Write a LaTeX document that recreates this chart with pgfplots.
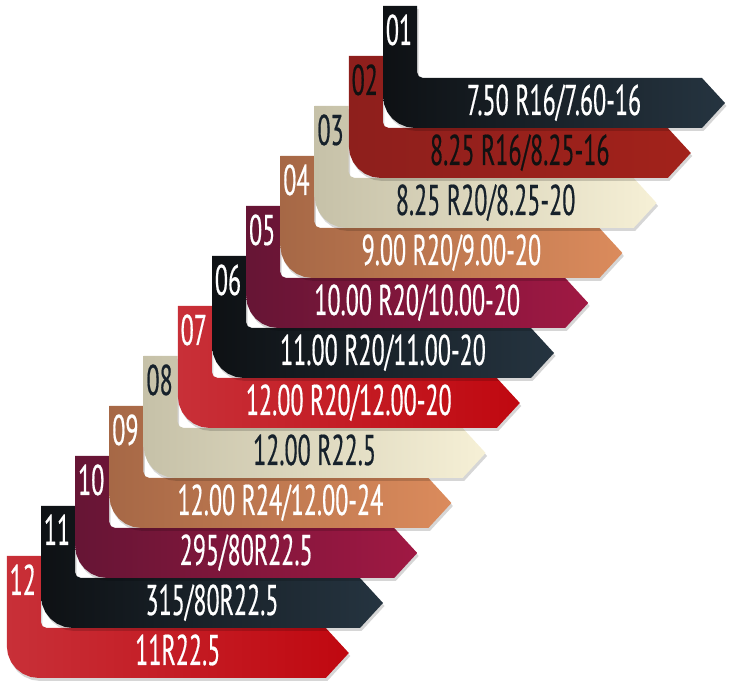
\documentclass[border=0pt]{standalone}
\usepackage{pgfplots}
\pgfplotsset{compat=1.18}
\usepackage{pgfplotstable}
\usepackage{fontspec}
\setmainfont{PT Sans}
\newfontfamily\condfont{PT Sans}[FakeStretch=0.56, FakeBold=0.4]

\definecolor{dkL}{HTML}{0E1114}\definecolor{dkR}{HTML}{253440}
\definecolor{brL}{HTML}{8E1F1C}\definecolor{brR}{HTML}{A2221B}
\definecolor{bgL}{HTML}{C6C1A8}\definecolor{bgR}{HTML}{F6F0D6}
\definecolor{tnL}{HTML}{A66846}\definecolor{tnR}{HTML}{DB8B5C}
\definecolor{plL}{HTML}{661535}\definecolor{plR}{HTML}{A01843}
\definecolor{rdL}{HTML}{C83038}\definecolor{rdR}{HTML}{C00810}
\definecolor{navy}{HTML}{16212B}
\definecolor{blk}{HTML}{111111}

% template outline of banner 01 (pixel units, y upward)
\pgfplotstableread{
x y
383 682
417 682
417 616
418.76 611.76
423 610
702 610
725 585
702 560
415 560
406.72 561.09
399 564.29
392.37 569.37
387.29 576
384.09 583.72
383 592
}\shapetab

\newcommand\labsize{\fontsize{21.5}{21.5}\selectfont}

% #1 index, #2 number, #3 label, #4 left colour, #5 right colour, #6 number colour, #7 label colour
\newcommand\banner[7]{%
  \addplot[draw=none, fill=black, fill opacity=0.16, forget plot]
    table[x expr=\thisrow{x}-34.2*#1+1.5, y expr=\thisrow{y}-50*#1-3]{\shapetab} -- cycle;
  \addplot[draw=none, left color=#4, right color=#5, forget plot]
    table[x expr=\thisrow{x}-34.2*#1, y expr=\thisrow{y}-50*#1]{\shapetab} -- cycle;
  \node[anchor=base, inner sep=0pt, text=#6, font=\condfont\labsize] at (axis cs:{399-34.2*#1},{643-50*#1}) {#2};
  \node[anchor=base, inner sep=0pt, text=#7, font=\condfont\labsize] at (axis cs:{554-34.2*#1},{573-50*#1}) {#3};
}

\begin{document}
\begin{tikzpicture}
\path[use as bounding box] (0,0) rectangle (366pt,344pt);
\begin{axis}[
  at={(0,0)}, anchor=south west,
  scale only axis, width=366pt, height=344pt,
  xmin=0, xmax=732, ymin=0, ymax=688,
  hide axis, clip=false,
]
\banner{11}{12}{11R22.5}{rdL}{rdR}{white}{white}
\banner{10}{11}{315/80R22.5}{dkL}{dkR}{white}{white}
\banner{9}{10}{295/80R22.5}{plL}{plR}{white}{white}
\banner{8}{09}{12.00 R24/12.00-24}{tnL}{tnR}{white}{white}
\banner{7}{08}{12.00 R22.5}{bgL}{bgR}{navy}{navy}
\banner{6}{07}{12.00 R20/12.00-20}{rdL}{rdR}{white}{white}
\banner{5}{06}{11.00 R20/11.00-20}{dkL}{dkR}{white}{white}
\banner{4}{05}{10.00 R20/10.00-20}{plL}{plR}{white}{white}
\banner{3}{04}{9.00 R20/9.00-20}{tnL}{tnR}{white}{white}
\banner{2}{03}{8.25 R20/8.25-20}{bgL}{bgR}{navy}{navy}
\banner{1}{02}{8.25 R16/8.25-16}{brL}{brR}{blk}{blk}
\banner{0}{01}{7.50 R16/7.60-16}{dkL}{dkR}{white}{white}
\end{axis}
\end{tikzpicture}
\end{document}
